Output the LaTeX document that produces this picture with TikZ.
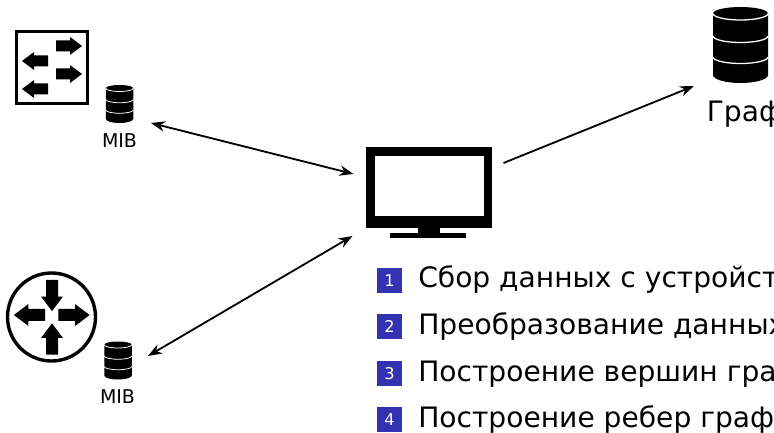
\documentclass[tikz,border=0pt]{standalone}
\usepackage{fontspec}
\setmainfont{DejaVu Sans}
\usetikzlibrary{arrows.meta}
\definecolor{stepblue}{rgb}{0.2,0.2,0.7}
\tikzset{
  iconbox/.style 2 args={inner sep=0pt,outer sep=0pt,minimum width=#1*0.25mm,minimum height=#2*0.25mm},
  link/.style={line width=1.3pt,>={Stealth[length=3.5mm,width=2.6mm]}},
  steptext/.style={anchor=base west,inner sep=0pt,font=\fontsize{20}{22}\selectfont},
  stepnum/.style={fill=stepblue,text=white,inner sep=0pt,minimum size=6.25mm,font=\fontsize{11.5}{13}\selectfont},
  miblabel/.style={inner sep=0pt,font=\fontsize{13.5}{15}\selectfont},
  blockarrow/.pic={\fill (-13,-#1) -- (1,-#1) -- (1,-9) -- (13,0) -- (1,9) -- (1,#1) -- (-13,#1) --cycle;},
  dbicon/.pic={
    \fill (-27.5,-31.5) arc[start angle=180,end angle=360,x radius=27.5,y radius=6.5]
      -- (27.5,30) arc[start angle=0,end angle=180,x radius=27.5,y radius=8] --cycle;
    \foreach \y in {-31.5,-9,12} \draw[white] (-27.5,\y) arc[start angle=180,end angle=0,x radius=27.5,y radius=6.5];
  }
}
\begin{document}
\begin{tikzpicture}[x=0.25mm,y=-0.25mm]
       \useasboundingbox (0,0) rectangle (774,433);
       \clip (0,0) rectangle (774,433);
       % switch
       \draw[line width=2.4pt] (16.5,31.5) rectangle (87.5,103.5);
       \pic at (69,46) {blockarrow=5.5};
       \pic at (69,74) {blockarrow=5.5};
       \pic[rotate=180] at (35,61) {blockarrow=5.5};
       \pic[rotate=180] at (35,89) {blockarrow=5.5};
       % router
       \draw[line width=2.4pt] (51.5,317) circle (44);
       \pic[rotate=-90,scale=1.2] at (52,295.5) {blockarrow=5};
       \pic[rotate=90,scale=1.2] at (52,339) {blockarrow=5};
       \pic[rotate=180,scale=1.2] at (29.5,315) {blockarrow=5};
       \pic[scale=1.2] at (74,315) {blockarrow=5};
       % databases
       \node[iconbox={27}{38}] (mibswitch) at (119.5,104) {};
       \pic[scale=0.5,line width=0.55pt] at (119.5,104) {dbicon};
       \node[miblabel] (mibswitchtext) at (119.5,141) {MIB};
       \node[iconbox={28}{37}] (mibrouter) at (118,360.5) {};
       \pic[scale=0.5,line width=0.55pt] at (118,360.5) {dbicon};
       \node[miblabel] (mibroutertext) at (117.5,397) {MIB};
       \node[iconbox={55}{76}] (graphdb) at (740.5,45) {};
       \pic[line width=0.9pt] at (740.5,45) {dbicon};
       \node[steptext] (graphtext) at (706.5,122) {Граф};
       % monitor
       \node[iconbox={127}{91}] (monitor) at (428.5,192.5) {};
       \fill (365.5,147) rectangle (492,228);
       \fill[white] (375,156.5) rectangle (483.5,216.5);
       \fill (417.5,228) rectangle (439.5,236);
       \fill (390,233) rectangle (466,238);
       % connectors
       \draw[link,<->] ([shift={(18,19)}]mibswitch.east) -- ([shift={(-11.5,-18.5)}]monitor.west);
       \draw[link,<->] ([shift={(16,-4.5)}]mibrouter.east) -- ([shift={(-12.5,-2)}]monitor.south west);
       \draw[link,->] ([shift={(11.5,-29.5)}]monitor.east) -- ([shift={(-19,3)}]graphdb.south west);
       % steps
       \foreach \n/\y/\t in {1/280.5/Сбор данных с устройств,2/326.5/Преобразование данных,3/373.5/Построение вершин графа,4/419.5/Построение ребер графа}{
         \node[stepnum] (step\n) at (389.5,\y) {\n};
         \node[steptext] (steptext\n) at (418,\y+7.5) {\t};
       }
\end{tikzpicture}
\end{document}
